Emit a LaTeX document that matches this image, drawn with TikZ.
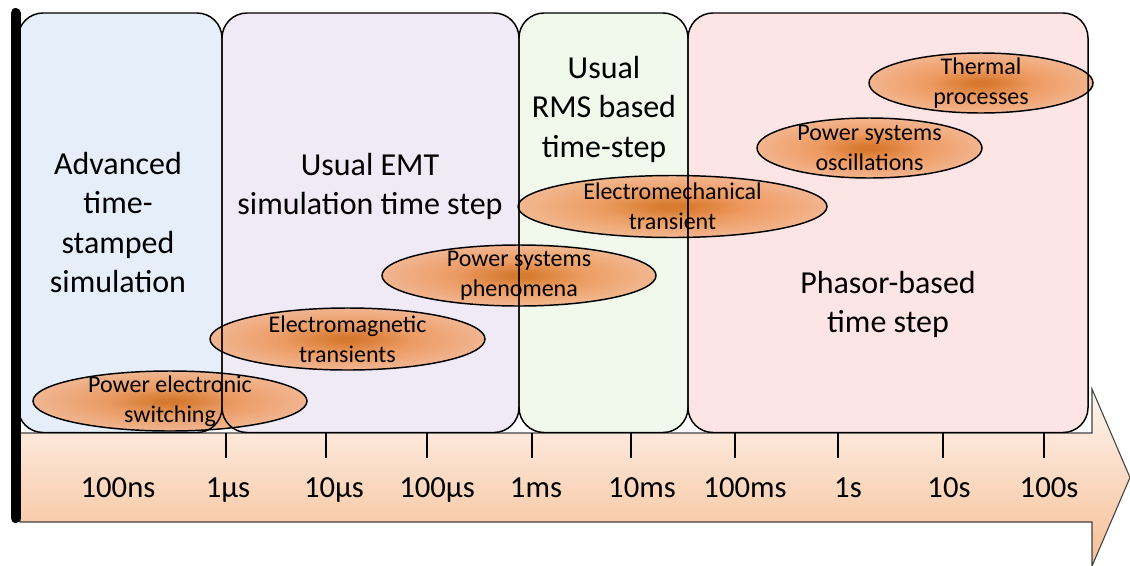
\documentclass[tikz,border=0pt]{standalone}
\usepackage{fontspec}
\setmainfont{Carlito}
\usetikzlibrary{shapes.geometric}
\definecolor{bblue}{HTML}{E6EFF9}
\definecolor{blav}{HTML}{EFEAF5}
\definecolor{bgreen}{HTML}{F1F8EC}
\definecolor{bpink}{HTML}{FDE5E5}
\definecolor{ecore}{HTML}{D2660E}
\definecolor{emid}{HTML}{EC8E4C}
\definecolor{eedge}{HTML}{F2AD80}
\definecolor{atop}{HTML}{FEF6F1}
\definecolor{abot}{HTML}{F6BE94}
\definecolor{aline}{HTML}{404040}
\pgfdeclareradialshading{ellshade}{\pgfpoint{0bp}{0bp}}{color(0bp)=(ecore); color(2bp)=(ecore); color(12bp)=(emid); color(25bp)=(eedge); color(50bp)=(eedge)}
\tikzset{
  boxfill/.style={rounded corners=18.75pt},
  boxline/.style={draw=black, line width=1.1pt, rounded corners=18.75pt},
  ell/.style={ellipse, draw=black, line width=1.1pt, shading=ellshade, fill opacity=0.85, inner sep=0pt},
  etext/.style={font=\fontsize{18}{22.5}\selectfont, align=center, inner sep=0pt, text=black},
  btext/.style={font=\fontsize{24}{29.6}\selectfont, align=center, inner sep=0pt, text=black},
  alabel/.style={font=\fontsize{23}{28}\selectfont, anchor=base, inner sep=0pt, text=black},
  tickline/.style={draw=black, line width=1.1pt},
}
\begin{document}
\begin{tikzpicture}[x=0.75pt,y=-0.75pt]
\useasboundingbox (0,0) rectangle (1130,565);
% timeline arrow
\shade[top color=atop, bottom color=abot, draw=aline, line width=0.8pt]
  (20,433) -- (1092,433) -- (1092,389) -- (1130,477.5) -- (1092,566) -- (1092,522) -- (20,522) -- cycle;
% box fills
\path[boxfill, fill=bblue] (18,13) rectangle (222,432.5);
\path[boxfill, fill=blav] (222,13) rectangle (519,432.5);
\path[boxfill, fill=bgreen] (519,13) rectangle (688,432.5);
\path[boxfill, fill=bpink] (688,13) rectangle (1088,432.5);
% ellipses
\node[ell, minimum width=205.5pt, minimum height=45pt] (pes) at (170,401) {};
\node[ell, minimum width=206.25pt, minimum height=46.5pt] (emt) at (347.5,339) {};
\node[ell, minimum width=205.5pt, minimum height=45.75pt] (psp) at (519,275.5) {};
\node[ell, minimum width=231.75pt, minimum height=46.5pt] (emc) at (672.5,206.5) {};
\node[ell, minimum width=168.75pt, minimum height=45pt] (pso) at (869.5,148) {};
\node[ell, minimum width=168pt, minimum height=45pt] (thp) at (981,83) {};
% box borders
\path[boxline] (18,13) rectangle (222,432.5);
\path[boxline] (222,13) rectangle (519,432.5);
\path[boxline] (519,13) rectangle (688,432.5);
\path[boxline] (688,13) rectangle (1088,432.5);
% ellipse texts
\node[etext] (pest) at (pes) {Power electronic\\switching};
\node[etext] (emtt) at (emt) {Electromagnetic\\transients};
\node[etext] (pspt) at (psp) {Power systems\\phenomena};
\node[etext] (emct) at (emc) {Electromechanical\\transient};
\node[etext] (psot) at (pso) {Power systems\\oscillations};
\node[etext] (thpt) at (thp) {Thermal\\processes};
% box texts
\node[btext] (t1) at (118,222.5) {Advanced\\time-\\stamped\\simulation};
\node[btext] (t2) at (370,186.5) {Usual EMT\\simulation time step};
\node[btext] (t3) at (604,109) {Usual\\RMS based\\time-step};
\node[btext] (t4) at (888,304.5) {Phasor-based\\time step};
% ticks
\foreach \tx in {226,326,427,532,631,735,838,943,1044}
  \draw[tickline] (\tx,433) -- (\tx,458);
% axis labels
\node[alabel] (l1) at (118,497) {100ns};
\node[alabel] (l2) at (228,497) {1µs};
\node[alabel] (l3) at (334,497) {10µs};
\node[alabel] (l4) at (437,497) {100µs};
\node[alabel] (l5) at (536,497) {1ms};
\node[alabel] (l6) at (642,497) {10ms};
\node[alabel] (l7) at (745,497) {100ms};
\node[alabel] (l8) at (848,497) {1s};
\node[alabel] (l9) at (949,497) {10s};
\node[alabel] (l10) at (1049,497) {100s};
% black bar
\draw[line width=7.5pt, line cap=round, black] (15.5,13) -- (15.5,518);
\end{tikzpicture}
\end{document}
